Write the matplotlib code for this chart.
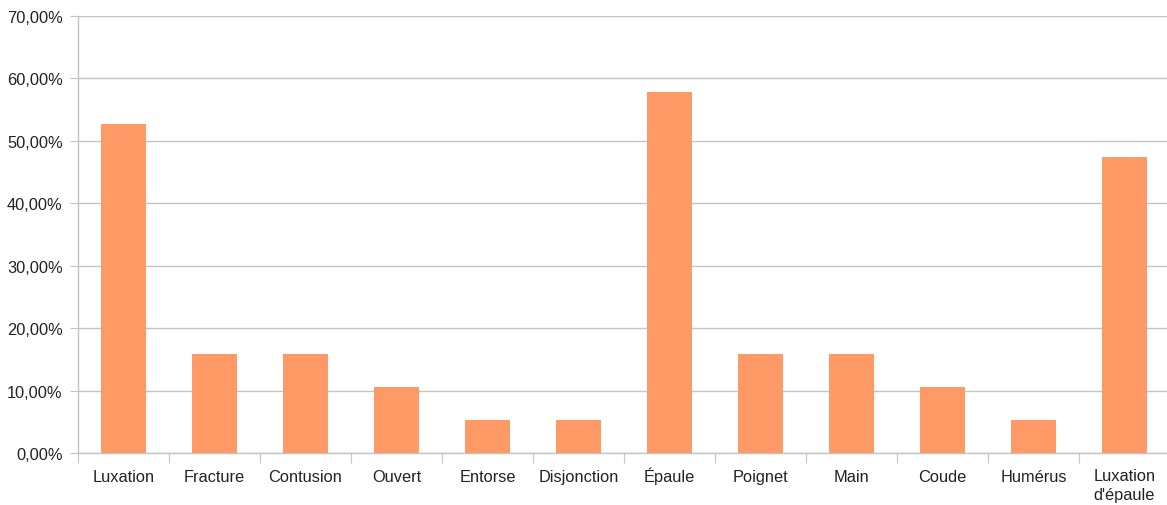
import matplotlib.pyplot as plt
from matplotlib.ticker import FuncFormatter, FixedLocator
from matplotlib.transforms import ScaledTranslation

categories = ["Luxation", "Fracture", "Contusion", "Ouvert", "Entorse", "Disjonction",
              "Épaule", "Poignet", "Main", "Coude", "Humérus", "Luxation\nd'épaule"]
shares = [52.63, 15.79, 15.79, 10.53, 5.26, 5.26,
          57.89, 15.79, 15.79, 10.53, 5.26, 47.37]

plt.rcParams['font.family'] = ['Liberation Sans', 'DejaVu Sans']

W, H = 1167, 506
fig = plt.figure(figsize=(W / 100, H / 100), dpi=100)
ax = fig.add_axes([78 / W, (H - 454) / H, 1092 / W, 437 / H])

grid_col = '#c4c4c4'
text_col = '#222222'

x = range(len(categories))
ax.bar(x, [v / 100 for v in shares], width=0.5, color='#ff9966', zorder=3)

ax.set_xlim(-0.5, len(categories) - 0.5)
ax.set_ylim(0, 0.7)

# y axis: percent with comma decimals
ax.set_yticks([i / 10 for i in range(8)])
ax.yaxis.set_major_formatter(FuncFormatter(lambda v, p: f"{v * 100:.2f}%".replace('.', ',')))
ax.yaxis.grid(True, color=grid_col, linewidth=1, zorder=0)
ax.tick_params(axis='y', length=6, color=grid_col, labelcolor=text_col, labelsize=11.8, pad=5)

# x axis: ticks between categories, labels at centers
ax.xaxis.set_major_locator(FixedLocator([i - 0.5 for i in range(len(categories) + 1)]))
ax.xaxis.set_major_formatter(FuncFormatter(lambda v, p: ''))
ax.xaxis.set_minor_locator(FixedLocator(list(x)))
ax.set_xticklabels(categories, minor=True)
ax.tick_params(axis='x', which='major', length=7, color=grid_col)
ax.tick_params(axis='x', which='minor', length=0, labelcolor=text_col, labelsize=11.8, pad=20)

# align single-line labels on their baseline (accents don't push them down);
# the two-line label hangs from the top instead
for t in ax.xaxis.get_minorticklabels():
    if '\n' in t.get_text():
        t.set_verticalalignment('top')
        t.set_linespacing(1.35)
        t.set_transform(t.get_transform() + ScaledTranslation(0, 9.5 / 72, fig.dpi_scale_trans))
    else:
        t.set_verticalalignment('baseline')

for s in ['top', 'right']:
    ax.spines[s].set_visible(False)
for s in ['left', 'bottom']:
    ax.spines[s].set_color(grid_col)
    ax.spines[s].set_linewidth(1)
    ax.spines[s].set_zorder(1)

fig.savefig('out.png', dpi=100)
